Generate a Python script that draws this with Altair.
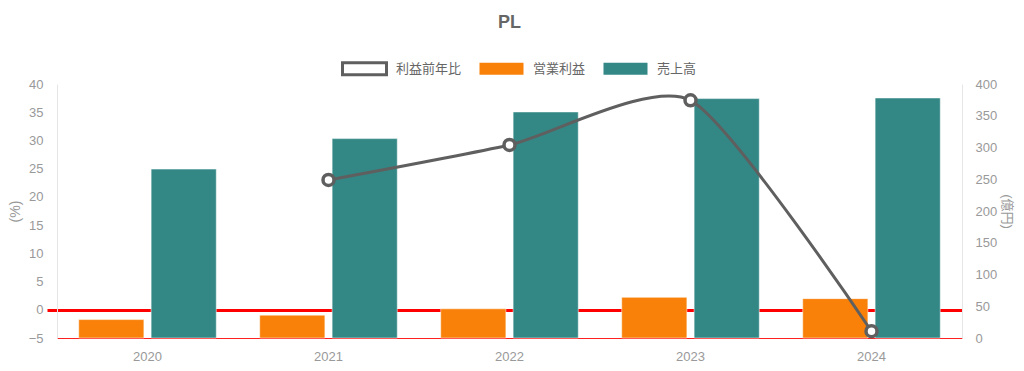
import altair as alt
import pandas as pd

years = ["2020", "2021", "2022", "2023", "2024"]
sales = [266, 314, 356, 377, 378]          # 売上高 (億円)
op_profit = [29, 36, 46, 64, 62]           # 営業利益 (億円)
growth = [None, 23.0, 29.2, 37.1, -3.8]    # 利益前年比 (%)

series_names = ["利益前年比", "営業利益", "売上高"]
series_colors = ["#ffffff", "#F98109", "#338886"]

bar_rows = []
for y, s, o in zip(years, sales, op_profit):
    bar_rows.append({"year": y, "series": "営業利益", "value": o})
    bar_rows.append({"year": y, "series": "売上高", "value": s})
bars_df = pd.DataFrame(bar_rows)

line_df = pd.DataFrame({"year": years, "growth": growth}).dropna()

FONT = "Liberation Sans, Noto Sans CJK JP, sans-serif"
GREY = "#5f5f5f"
FS = 13

x_enc = alt.X(
    "year:N",
    sort=years,
    scale=alt.Scale(paddingInner=0.2, paddingOuter=0.1),
    axis=alt.Axis(
        title=None, labelAngle=0, ticks=False, domainColor="#ff2020", domainWidth=1,
        labelColor="#999999", labelFontSize=FS, labelPadding=12, labelFont=FONT,
    ),
)

bars = alt.Chart(bars_df).mark_bar(stroke="#ffffff", strokeWidth=1, strokeOpacity=0.5).encode(
    x=x_enc,
    xOffset=alt.XOffset("series:N", sort=["営業利益", "売上高"],
                        scale=alt.Scale(paddingInner=0.1, paddingOuter=0.05)),
    y=alt.Y(
        "value:Q",
        scale=alt.Scale(domain=[0, 400], nice=False),
        axis=alt.Axis(
            orient="right", title="(億円)", values=list(range(0, 401, 50)),
            grid=False, ticks=False, domainColor="#e6e6e6", labelColor="#999999",
            labelFontSize=FS, labelPadding=13, titleColor="#999999", titleFontSize=13,
            titleFontWeight="normal", titlePadding=3, labelFont=FONT, titleFont=FONT,
        ),
    ),
    color=alt.Color(
        "series:N",
        scale=alt.Scale(domain=series_names, range=series_colors),
        legend=alt.Legend(
            title=None, orient="none", direction="horizontal", legendX=284, legendY=-39,
            symbolType="M-1,-0.27H1V0.27H-1Z", symbolSize=1936, symbolOpacity=1,
            labelColor="#666666", labelFontSize=FS, labelFont=FONT, labelOffset=8,
            columnPadding=11,
            symbolStrokeColor=alt.ExprRef("datum.label === '利益前年比' ? '#5f5f5f' : 'transparent'"),
            symbolStrokeWidth=3,
        ),
    ),
)

y_line = alt.Y(
    "growth:Q",
    scale=alt.Scale(domain=[-5, 40], nice=False),
    axis=alt.Axis(
        orient="left", title="(%)", values=list(range(-5, 41, 5)),
        grid=True,
        gridColor=alt.condition("datum.value === 0", alt.value("#ff0000"), alt.value("transparent")),
        gridWidth=3,
        ticks=True, tickSize=10,
        tickColor=alt.condition("datum.value === 0", alt.value("#ff0000"), alt.value("transparent")),
        tickWidth=3,
        domainColor="#e6e6e6", labelColor="#999999", labelFontSize=FS, labelPadding=4,
        titleColor="#999999", titleFontSize=14, titleFontWeight="normal", titlePadding=6,
        labelFont=FONT, titleFont=FONT,
    ),
)

line_base = alt.Chart(line_df).encode(x=x_enc, y=y_line)

line = line_base.mark_line(color=GREY, strokeWidth=3, interpolate="cardinal", tension=0.35)
points = line_base.mark_point(filled=True, fill="#ffffff", stroke=GREY, strokeWidth=3.5,
                              size=121, opacity=1)
line_layer = alt.layer(line, points)

chart = alt.layer(bars, line_layer).resolve_scale(y="independent").properties(
    width=905,
    height=254,
    autosize=alt.AutoSizeParams(type="none"),
    padding={"left": 49, "top": 76, "right": 54, "bottom": 25},
    title=alt.Title("PL", fontSize=18, fontWeight="bold", color="#666666", font=FONT,
                    anchor="middle", offset=13),
).configure_view(stroke=None)

chart.save("out.html", embed_options={"renderer": "svg", "actions": False})
